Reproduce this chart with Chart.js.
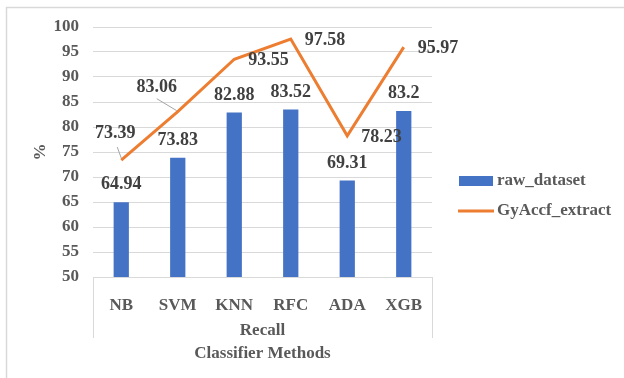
<!DOCTYPE html>
<html>
<head>
<meta charset="utf-8">
<script src="https://cdn.jsdelivr.net/npm/chart.js@4.4.0/dist/chart.umd.min.js"></script>
<style>
  html, body { margin: 0; padding: 0; background: #fff; }
  #wrap { width: 624px; height: 378px; }
</style>
</head>
<body>
<div id="wrap"><canvas id="c" width="624" height="378"></canvas></div>
<script>
// Recall of each classifier, raw features vs. GyAccf extracted features
const categories = ['NB', 'SVM', 'KNN', 'RFC', 'ADA', 'XGB'];
const rawDataset = [64.94, 73.83, 82.88, 83.52, 69.31, 83.2];
const gyAccfExtract = [73.39, 83.06, 93.55, 97.58, 78.23, 95.97];
const yTicks = { min: 50, max: 100, step: 5 };
const groupLabel = 'Recall';
const axisTitle = 'Classifier Methods';

const FONT = '"Liberation Serif", "Times New Roman", serif';
const TEXT = '#595959';
const LABEL = '#404040';
const GRID = '#D9D9D9';
const BLUE = '#4472C4';
const ORANGE = '#ED7D31';

// frame, category separators and legend
const decorations = {
  id: 'decorations',
  beforeDraw(chart) {
    const ctx = chart.ctx;
    ctx.save();
    ctx.fillStyle = '#fff';
    ctx.fillRect(0, 0, chart.width, chart.height);
    ctx.strokeStyle = GRID;
    ctx.lineWidth = 1.5;
    ctx.beginPath();
    ctx.moveTo(6.5, chart.height);
    ctx.lineTo(6.5, 7.5);
    ctx.lineTo(chart.width, 7.5);
    ctx.stroke();
    ctx.restore();
  },
  afterDraw(chart) {
    const ctx = chart.ctx;
    const a = chart.chartArea;
    ctx.save();
    ctx.strokeStyle = GRID;
    ctx.lineWidth = 1;
    ctx.beginPath();
    ctx.moveTo(Math.round(a.left) + 0.5, a.bottom);
    ctx.lineTo(Math.round(a.left) + 0.5, a.bottom + 61);
    ctx.moveTo(Math.round(a.right) + 0.5, a.bottom);
    ctx.lineTo(Math.round(a.right) + 0.5, a.bottom + 61);
    ctx.stroke();

    // legend
    const lx = 459, ly1 = 181, ly2 = 211;
    ctx.fillStyle = BLUE;
    ctx.fillRect(lx, ly1 - 5, 34, 10);
    ctx.strokeStyle = ORANGE;
    ctx.lineWidth = 3;
    ctx.beginPath();
    ctx.moveTo(lx - 1, ly2);
    ctx.lineTo(lx + 35, ly2);
    ctx.stroke();
    ctx.fillStyle = TEXT;
    ctx.font = 'bold 17px ' + FONT;
    ctx.textBaseline = 'middle';
    ctx.textAlign = 'left';
    ctx.fillText(chart.data.datasets[0].label, 497, ly1);
    ctx.fillText(chart.data.datasets[1].label, 497, ly2);
    ctx.restore();
  }
};

// value labels above bars and beside line vertices
const valueLabels = {
  id: 'valueLabels',
  afterDatasetsDraw(chart, args, opts) {
    const ctx = chart.ctx;
    ctx.save();
    ctx.font = 'bold 18px ' + FONT;
    ctx.fillStyle = LABEL;
    ctx.textBaseline = 'middle';

    const barMeta = chart.getDatasetMeta(0);
    barMeta.data.forEach((el, i) => {
      ctx.textAlign = 'center';
      ctx.fillText(String(chart.data.datasets[0].data[i]), el.x, el.y - 17.5);
    });

    const lineMeta = chart.getDatasetMeta(1);
    lineMeta.data.forEach((el, i) => {
      const txt = String(chart.data.datasets[1].data[i]);
      const moved = opts.moved[i];
      if (moved) {
        ctx.strokeStyle = '#A6A6A6';
        ctx.lineWidth = 1;
        ctx.beginPath();
        ctx.moveTo(el.x + moved.leader[0], el.y + moved.leader[1]);
        ctx.lineTo(el.x + moved.leader[2], el.y + moved.leader[3]);
        ctx.stroke();
        ctx.textAlign = 'center';
        ctx.fillText(txt, el.x + moved.dx, el.y + moved.dy);
      } else {
        ctx.textAlign = 'left';
        ctx.fillText(txt, el.x + 14, el.y + 1);
      }
    });
    ctx.restore();
  }
};

new Chart(document.getElementById('c'), {
  data: {
    labels: categories,
    datasets: [
      {
        type: 'bar',
        label: 'raw_dataset',
        data: rawDataset,
        backgroundColor: BLUE,
        barPercentage: 0.27,
        categoryPercentage: 1,
        order: 1
      },
      {
        type: 'line',
        label: 'GyAccf_extract',
        data: gyAccfExtract,
        borderColor: ORANGE,
        borderWidth: 3,
        pointRadius: 0,
        tension: 0,
        fill: false,
        order: 0
      }
    ]
  },
  options: {
    responsive: false,
    animation: false,
    devicePixelRatio: 1,
    layout: { padding: { left: 0, top: 27, right: 192, bottom: 0 } },
    plugins: {
      legend: { display: false },
      tooltip: { enabled: false },
      valueLabels: {
        moved: {
          0: { dx: -6, dy: -27, leader: [-4, -13, 0, -2] },
          1: { dx: -21, dy: -24, leader: [-21, -13, -1, -1] }
        }
      }
    },
    scales: {
      x: {
        grid: { display: false },
        border: { display: true, color: GRID, width: 1 },
        ticks: {
          color: TEXT,
          padding: 10,
          font: { family: FONT, size: 17, weight: 'bold' }
        },
        title: {
          display: true,
          text: [groupLabel, axisTitle],
          color: TEXT,
          font: { family: FONT, size: 17, weight: 'bold', lineHeight: 1.4 },
          padding: { top: 0, bottom: 12 }
        },
        afterFit(scale) { scale.height = 101; }
      },
      y: {
        min: yTicks.min,
        max: yTicks.max,
        grid: { color: GRID, lineWidth: 1, drawTicks: false },
        border: { display: false },
        ticks: {
          stepSize: yTicks.step,
          color: TEXT,
          padding: 14,
          font: { family: FONT, size: 17, weight: 'bold' }
        },
        title: {
          display: true,
          text: '%',
          color: TEXT,
          font: { family: FONT, size: 17, weight: 'bold' },
          padding: { top: 30, bottom: 0 }
        },
        afterFit(scale) { scale.width = 93; }
      }
    }
  },
  plugins: [decorations, valueLabels]
});
</script>
</body>
</html>
